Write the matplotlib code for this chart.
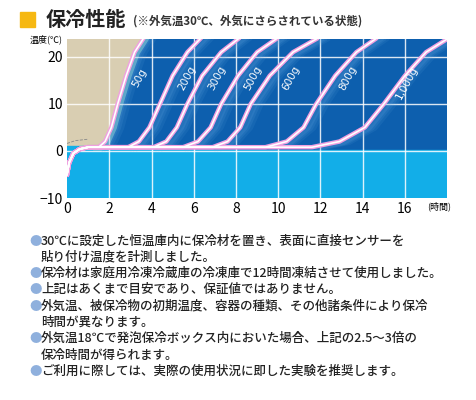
import matplotlib
matplotlib.use("Agg")
import matplotlib.pyplot as plt
import numpy as np
from matplotlib.patches import Rectangle

plt.rcParams['font.family'] = ['Noto Sans CJK JP', 'DejaVu Sans']

labels = ["50g", "200g", "300g", "500g", "600g", "800g", "1,000g"]
# (hours, temperature) points
series_x = [
    [0, 0.1, 0.3, 0.6, 1.0, 1.5, 1.8, 2.1, 2.4, 2.8, 3.2, 3.6],
    [0, 0.1, 0.3, 0.6, 1.0, 2.9, 3.4, 3.9, 4.4, 5.0, 5.7, 6.3],
    [0, 0.1, 0.3, 0.6, 1.0, 4.1, 4.7, 5.2, 5.7, 6.4, 7.3, 8.1],
    [0, 0.1, 0.3, 0.6, 1.0, 5.5, 6.2, 6.8, 7.3, 8.1, 9.0, 9.9],
    [0, 0.1, 0.3, 0.6, 1.0, 6.9, 7.6, 8.2, 8.7, 9.6, 10.7, 11.8],
    [0, 0.1, 0.3, 0.6, 1.0, 9.4, 10.4, 11.2, 11.8, 12.7, 13.7, 14.6],
    [0, 0.1, 0.3, 0.6, 1.0, 11.6, 12.9, 14.1, 15.0, 16.0, 17.0, 18.0],
]
series_y = [-5, -2.5, -0.5, 0.4, 0.8, 0.8, 2.0, 5.0, 10.0, 16.0, 21.0, 23.8]
label_pos = [(3.45, 15.5), (5.7, 15.5), (7.1, 15.5), (8.8, 15.5), (10.6, 15.5), (13.3, 15.5), (16.1, 14.5)]

fig = plt.figure(figsize=(4.77, 4.0), dpi=100)
ax = fig.add_axes([0.1405, 0.505, 0.797, 0.3975])
ax.set_xlim(0, 18)
ax.set_ylim(-10, 23.8)
ax.set_facecolor('#0d5fae')
ax.axhspan(-10, 0.3, color='#12aee8', zorder=0)
x0 = np.array(series_x[0]); y0 = np.array(series_y)
ax.plot(x0[4:] + 0.1, y0[4:], color='#6fb8c8', lw=5, alpha=0.8, zorder=0.6)
ax.fill_betweenx(y0[4:], 0, x0[4:], color='#d9ceb2', zorder=0.7)
ax.fill_between([0, 1.2], 0.3, 1.0, color='#12aee8', zorder=0.8)

for v in [2, 4, 6, 8, 10, 12, 14, 16]:
    ax.axvline(v, color='white', lw=1, alpha=0.85, zorder=1)
for v in [0, 10, 20]:
    ax.axhline(v, color='white', lw=1, alpha=0.85, zorder=1)

for xs, lab, (lx, ly) in zip(series_x, labels, label_pos):
    xs = np.array(xs)
    for off, a in [(0.45, 0.10), (0.3, 0.12), (0.18, 0.15)]:
        ax.plot(xs[5:] + off, series_y[5:], color='#6aaee6', lw=5, alpha=a, zorder=1.5)
    ax.plot(xs, series_y, color='#f0a0e0', lw=3.2, zorder=2)
    ax.plot(xs, series_y, color='white', lw=1.2, zorder=3)
    ax.text(lx, ly, lab, color='white', fontsize=7.5, rotation=62, ha='center', va='center',
            family=['DejaVu Sans'], zorder=4)

ax.plot([0, 0.4, 1.0], [1.6, 2.2, 2.5], color='#888888', lw=0.6, ls='--', zorder=3)

ax.set_xticks([0, 2, 4, 6, 8, 10, 12, 14, 16])
ax.set_yticks([-10, 0, 10, 20])
ax.set_yticklabels(['−10', '0', '10', '20'])
ax.tick_params(length=0, labelsize=10, pad=3)
for s in ax.spines.values():
    s.set_visible(False)
ax.text(-0.012, 1.0, '温度(℃)', transform=ax.transAxes, ha='right', va='center', fontsize=6.5)
ax.text(18.2, -11.7, '(時間)', ha='right', va='center', fontsize=6.5)

fig.patches.append(Rectangle((20/477, 1-27/400), 15/477, 15/400, transform=fig.transFigure, color='#f6b812'))
fig.text(46/477, 1-20/400, '保冷性能', fontsize=14.5, weight='bold', va='center', color='#222222')
fig.text(133/477, 1-21/400, '(※外気温30℃、外気にさらされている状態)', fontsize=8.3, weight='bold', va='center', color='#333333')

lines = [
    ('●', '30℃に設定した恒温庫内に保冷材を置き、表面に直接センサーを'),
    ('', '貼り付け温度を計測しました。'),
    ('●', '保冷材は家庭用冷凍冷蔵庫の冷凍庫で12時間凍結させて使用しました。'),
    ('●', '上記はあくまで目安であり、保証値ではありません。'),
    ('●', '外気温、被保冷物の初期温度、容器の種類、その他諸条件により保冷'),
    ('', '時間が異なります。'),
    ('●', '外気温18℃で発泡保冷ボックス内においた場合、上記の2.5〜3倍の'),
    ('', '保冷時間が得られます。'),
    ('●', 'ご利用に際しては、実際の使用状況に即した実験を推奨します。'),
]
y = 241
for b, t in lines:
    if b:
        fig.text(29/477, 1-y/400, b, fontsize=9, color='#8fb0dd', va='center')
    fig.text(41/477, 1-y/400, t, fontsize=9, color='#222222', va='center', weight='medium')
    y += 16.3

fig.savefig('out.png', dpi=100)
